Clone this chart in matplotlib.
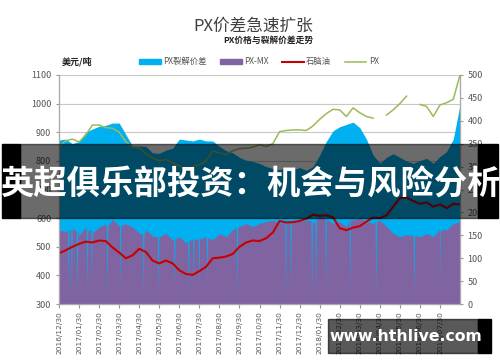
import numpy as np
import matplotlib
matplotlib.use("Agg")
import matplotlib.pyplot as plt
from matplotlib.patches import Patch, Rectangle
from matplotlib.lines import Line2D

plt.rcParams['font.family'] = ['Noto Sans CJK SC', 'DejaVu Sans']

# x en mois depuis 2016/12/30 (3 points par mois)
step = 1 / 3.0

# PX (USD/t, axe gauche) ; nan = trou dans la courbe
px = [850, 870, 876, 866, 890, 925, 925, 916, 914, 900,
      867, 848, 846, 825, 810, 800, 805, 793, 783, 768,
      780, 786, 800, 835, 828, 822, 835, 843, 844, 848,
      856, 850, 860, 902, 906, 908, 908, 906, 922, 945,
      965, 980, 978, 955, 985, 968, 955, 949, np.nan, 960,
      978, 1000, 1026, np.nan, 997, 990, 955, 995, 1003, 1015,
      1100]

# naphta (USD/t, axe gauche)
naphtha = [477, 488, 500, 510, 518, 515, 522, 520, 498, 480,
           460, 470, 493, 482, 452, 442, 452, 442, 418, 405,
           402, 415, 430, 460, 462, 466, 475, 500, 515, 522,
           520, 530, 550, 590, 585, 586, 590, 598, 612, 608,
           610, 603, 565, 558, 567, 572, 588, 602, 600, 610,
           640, 670, 672, 660, 650, 655, 640, 648, 635, 650,
           648]

# PX裂解价差 (axe droit)
spread = [358, 360, 350, 355, 375, 382, 388, 390, 395, 395,
          370, 345, 345, 344, 330, 329, 336, 340, 360, 358,
          356, 360, 356, 356, 344, 335, 330, 320, 314, 311,
          307, 300, 296, 293, 298, 293, 298, 292, 300, 325,
          355, 378, 387, 392, 397, 385, 360, 325, 308, 320,
          328, 320, 312, 307, 313, 318, 307, 322, 333, 360,
          435]

# PX-MX (axe droit)
pxmx = [162, 158, 165, 150, 168, 155, 168, 175, 185, 170,
        175, 168, 155, 162, 148, 147, 154, 140, 147, 133,
        143, 140, 147, 140, 154, 147, 162, 169, 176, 169,
        176, 180, 183, 176, 183, 180, 180, 183, 176, 190,
        183, 176, 180, 169, 183, 187, 180, 176, 183, 169,
        154, 147, 151, 147, 147, 154, 147, 154, 162, 176,
        180]

# chutes ponctuelles de PX-MX
dip_month = [0.47, 0.62, 0.90, 1.40, 1.62, 2.40, 3.05, 4.20, 4.95, 5.75, 6.45, 6.70,
             6.97, 7.38, 8.88, 11.30, 11.55, 12.60, 12.80, 13.30, 14.50, 15.80, 17.70, 19.00]
dip_low = [30, 40, 25, 30, 60, 25, 40, 30, 25, 40, 30, 60,
           40, 50, 25, 25, 40, 25, 30, 40, 30, 20, 25, 35]
dip_top = [160, 165, 160, 160, 162, 170, 172, 152, 147, 142, 138, 142,
           142, 145, 168, 180, 180, 182, 183, 185, 185, 180, 150, 162]

xlabels = ['2016/12/30', '2017/01/30', '2017/02/30', '2017/03/30', '2017/04/30',
           '2017/05/30', '2017/06/30', '2017/07/30', '2017/08/30', '2017/09/30',
           '2017/10/30', '2017/11/30', '2017/12/30', '2018/01/30', '2018/02/30',
           '2018/03/30', '2018/04/30', '2018/05/30', '2018/06/30', '2018/07/30']

x = np.arange(len(px)) * step

# courbe PX-MX avec les chutes
w = 0.035
pm_x = list(x)
pm_y = list(pxmx)
for m, lo, hi in zip(dip_month, dip_low, dip_top):
    pm_x += [m - w, m, m + w]
    pm_y += [hi, lo, hi]
order = np.argsort(pm_x, kind='stable')
pm_x = np.array(pm_x)[order]
pm_y = np.array(pm_y)[order]

c_blue = '#00B0F0'
c_purple = '#8064A2'
c_red = '#C80000'
c_green = '#9BBB59'
c_txt = '#555555'

fig = plt.figure(figsize=(5, 3.62), dpi=100)
ax = fig.add_axes([0.118, 0.160, 0.802, 0.633])
axr = ax.twinx()
axl = ax.twinx()

ax.set_xlim(0, 20)
ax.set_ylim(300, 1100)
ax.set_yticks(range(300, 1101, 100))
ax.yaxis.grid(True, color='#C8C8C8', lw=0.8)
ax.set_axisbelow(True)
ax.set_xticks(range(len(xlabels)))
ax.set_xticklabels(xlabels, rotation=90, fontsize=5.3, color=c_txt,
                   family='DejaVu Sans')
ax.tick_params(axis='y', labelsize=6.5, labelcolor=c_txt, length=2, color='#999999')
ax.tick_params(axis='x', length=3, color='#999999', pad=2)

axr.set_ylim(0, 500)
axr.set_yticks(range(0, 501, 50))
axr.tick_params(axis='y', labelsize=6.5, labelcolor=c_txt, length=2, color='#999999')
axr.fill_between(x, 0, spread, color=c_blue, lw=0)
axr.fill_between(pm_x, 0, pm_y, color=c_purple, lw=0)

axl.set_ylim(300, 1100)
axl.set_yticks([])
axl.plot(x, naphtha, color=c_red, lw=1.5)
axl.plot(x, px, color=c_green, lw=1.1)

for a in (ax, axr, axl):
    a.spines['top'].set_visible(False)
    for s in ('left', 'right', 'bottom'):
        a.spines[s].set_color('#AAAAAA')
        a.spines[s].set_linewidth(0.8)

# titres
fig.text(0.506, 0.928, 'PX价差急速扩张', ha='center', va='center', fontsize=12, color='#404040')
fig.text(0.537, 0.889, 'PX价格与裂解价差走势', ha='center', va='center', fontsize=6.3,
         fontweight='bold', color='#222222')
fig.text(0.155, 0.829, '美元/吨', ha='center', va='center', fontsize=6.5,
         fontweight='bold', color='#222222')

handles = [Patch(color=c_blue), Patch(color=c_purple),
           Line2D([], [], color=c_red, lw=1.5), Line2D([], [], color=c_green, lw=1.1)]
labels = ['PX裂解价差', 'PX-MX', '石脑油', 'PX']
fig.legend(handles, labels, loc='center', bbox_to_anchor=(0.518, 0.829), ncol=4,
           frameon=False, fontsize=6, handlelength=2.6, handleheight=0.5,
           columnspacing=1.6, handletextpad=0.3, labelcolor=c_txt)

# bandeau
fig.patches.append(Rectangle((0.004, 0.398), 0.036, 0.204, transform=fig.transFigure,
                             color='black', zorder=10))
fig.patches.append(Rectangle((0.956, 0.398), 0.04, 0.204, transform=fig.transFigure,
                             color='black', zorder=10))
fig.patches.append(Rectangle((0.040, 0.398), 0.916, 0.204, transform=fig.transFigure,
                             color='black', alpha=0.58, zorder=10))
fig.text(0.5, 0.488, '英超俱乐部投资：机会与风险分析', ha='center', va='center',
         fontsize=24, fontweight='bold', color='white', zorder=11)

# filigrane
fig.patches.append(Rectangle((0.656, 0.025), 0.30, 0.094, transform=fig.transFigure,
                             color='black', alpha=0.65, zorder=10))
fig.patches.append(Rectangle((0.956, 0.025), 0.026, 0.094, transform=fig.transFigure,
                             color='black', zorder=10))
fig.text(0.812, 0.070, 'www.hthlive.com', ha='center', va='center', fontsize=11.3,
         fontweight='bold', color='white', family='DejaVu Sans', zorder=11)

fig.savefig('out.png', dpi=100)
